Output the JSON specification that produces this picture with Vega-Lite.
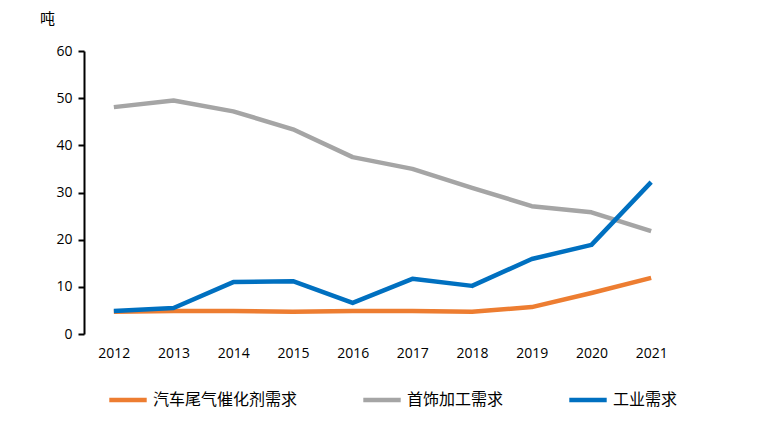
{
  "$schema": "https://vega.github.io/schema/vega-lite/v6.json",
  "width": 597,
  "height": 283,
  "autosize": {"type": "none"},
  "padding": {"left": 84, "top": 51, "right": 89, "bottom": 92},
  "background": "white",
  "data": {
    "values": [
      {"year": "2012", "series": "汽车尾气催化剂需求", "value": 4.7},
      {"year": "2013", "series": "汽车尾气催化剂需求", "value": 4.9},
      {"year": "2014", "series": "汽车尾气催化剂需求", "value": 4.9},
      {"year": "2015", "series": "汽车尾气催化剂需求", "value": 4.7},
      {"year": "2016", "series": "汽车尾气催化剂需求", "value": 4.9},
      {"year": "2017", "series": "汽车尾气催化剂需求", "value": 4.9},
      {"year": "2018", "series": "汽车尾气催化剂需求", "value": 4.7},
      {"year": "2019", "series": "汽车尾气催化剂需求", "value": 5.7},
      {"year": "2020", "series": "汽车尾气催化剂需求", "value": 8.7},
      {"year": "2021", "series": "汽车尾气催化剂需求", "value": 11.9},
      {"year": "2012", "series": "首饰加工需求", "value": 48.1},
      {"year": "2013", "series": "首饰加工需求", "value": 49.5},
      {"year": "2014", "series": "首饰加工需求", "value": 47.2},
      {"year": "2015", "series": "首饰加工需求", "value": 43.4},
      {"year": "2016", "series": "首饰加工需求", "value": 37.5},
      {"year": "2017", "series": "首饰加工需求", "value": 35.0},
      {"year": "2018", "series": "首饰加工需求", "value": 31.0},
      {"year": "2019", "series": "首饰加工需求", "value": 27.1},
      {"year": "2020", "series": "首饰加工需求", "value": 25.8},
      {"year": "2021", "series": "首饰加工需求", "value": 21.8},
      {"year": "2012", "series": "工业需求", "value": 4.9},
      {"year": "2013", "series": "工业需求", "value": 5.5},
      {"year": "2014", "series": "工业需求", "value": 11.0},
      {"year": "2015", "series": "工业需求", "value": 11.2},
      {"year": "2016", "series": "工业需求", "value": 6.6},
      {"year": "2017", "series": "工业需求", "value": 11.7},
      {"year": "2018", "series": "工业需求", "value": 10.2},
      {"year": "2019", "series": "工业需求", "value": 15.9},
      {"year": "2020", "series": "工业需求", "value": 18.9},
      {"year": "2021", "series": "工业需求", "value": 32.2}
    ]
  },
  "mark": {"type": "line", "strokeWidth": 4.5, "strokeJoin": "round", "strokeCap": "butt"},
  "encoding": {
    "x": {
      "field": "year",
      "type": "ordinal",
      "scale": {"type": "point", "padding": 0.5},
      "axis": {
        "title": null,
        "domain": false,
        "ticks": false,
        "labelAngle": 0,
        "labelPadding": 12,
        "labelFont": "Open Sans",
        "labelFontSize": 14,
        "labelColor": "#000000"
      }
    },
    "y": {
      "field": "value",
      "type": "quantitative",
      "scale": {"domain": [0, 60]},
      "axis": {
        "title": "吨",
        "titleAngle": 0,
        "titleX": -37,
        "titleY": -33,
        "titleAlign": "center",
        "titleBaseline": "middle",
        "titleFont": "Noto Sans CJK SC",
        "titleFontSize": 15,
        "titleFontWeight": "normal",
        "titleColor": "#000000",
        "values": [0, 10, 20, 30, 40, 50, 60],
        "grid": false,
        "domainColor": "#000000",
        "domainWidth": 2,
        "tickColor": "#000000",
        "tickWidth": 2,
        "tickSize": 6,
        "labelPadding": 6,
        "labelFont": "Open Sans",
        "labelFontSize": 14,
        "labelColor": "#000000"
      }
    },
    "color": {
      "field": "series",
      "type": "nominal",
      "sort": ["汽车尾气催化剂需求", "首饰加工需求", "工业需求"],
      "scale": {
        "domain": ["汽车尾气催化剂需求", "首饰加工需求", "工业需求"],
        "range": ["#ED7D31", "#A5A5A5", "#0070C0"]
      },
      "legend": {
        "title": null,
        "orient": "none",
        "direction": "horizontal",
        "legendX": 23,
        "legendY": 328,
        "symbolType": "stroke",
        "symbolSize": 1400,
        "symbolStrokeWidth": 4.5,
        "labelFont": "Noto Sans CJK SC",
        "labelFontSize": 16,
        "labelColor": "#000000",
        "labelOffset": 4,
        "columnPadding": 56
      }
    },
    "order": {"field": "year"}
  },
  "config": {"view": {"stroke": null}}
}
